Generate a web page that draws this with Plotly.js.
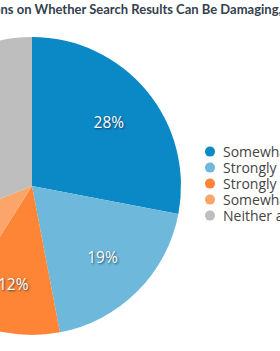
<!DOCTYPE html>
<html>
<head>
<meta charset="utf-8">
<script src="https://cdn.plot.ly/plotly-3.0.1.min.js"></script>
<style>
  html, body { margin:0; padding:0; width:280px; height:351px; overflow:hidden; background:#fff; }
  #chart { position:absolute; left:-250px; top:0; width:560px; height:351px; }
</style>
</head>
<body>
<div id="chart"></div>
<script>
const categories = ["Somewhat agree", "Strongly agree", "Strongly disagree", "Somewhat disagree", "Neither agree nor disagree"];
const shares = [28, 19, 12, 10, 31];
const sliceColors = ["#0b88c6", "#6db8db", "#fd8535", "#fca56a", "#bebebe"];
const titleText = "Opinions on Whether Search Results Can Be Damaging, by Respondents";

const W = 560, H = 351, OFFSET = 250;
const data = [{
  type: "pie",
  labels: categories,
  values: shares,
  sort: false,
  direction: "clockwise",
  rotation: 0,
  marker: { colors: sliceColors, line: { width: 0 } },
  texttemplate: "%{value}%",
  textposition: "inside",
  insidetextorientation: "horizontal",
  textfont: { family: "Open Sans", size: 15.5, color: "#ffffff", shadow: "1px 1px 2px rgba(20,40,60,0.75)" },
  hoverinfo: "none",
  domain: { x: [133 / W, 431 / W], y: [(H - 335) / H, (H - 37) / H] }
}];

const layout = {
  width: W, height: H,
  margin: { l: 0, r: 0, t: 0, b: 0, autoexpand: false },
  paper_bgcolor: "#ffffff",
  plot_bgcolor: "#ffffff",
  showlegend: true,
  title: {
    text: titleText,
    font: { family: "Lato", size: 13, weight: "bold", color: "#34404e" },
    x: 211 / W, xanchor: "left", xref: "paper",
    y: 1 - 9 / H, yanchor: "middle", yref: "container"
  },
  legend: {
    x: 440 / W, xanchor: "left",
    y: 1 - 136 / H, yanchor: "top",
    font: { family: "Open Sans", size: 14, color: "#444444" },
    bgcolor: "rgba(0,0,0,0)",
    borderwidth: 0
  }
};

Plotly.newPlot("chart", data, layout, { staticPlot: true, displayModeBar: false }).then(function (gd) {
  // legend: tighter rows, round symbols
  const items = gd.querySelectorAll(".legend .traces");
  let y0 = null;
  items.forEach(function (g, i) {
    const m = /translate\(([-\d.]+),\s*([-\d.]+)\)/.exec(g.getAttribute("transform") || "");
    if (y0 === null) y0 = m ? parseFloat(m[2]) : 0;
    const x = m ? parseFloat(m[1]) : 0;
    g.setAttribute("transform", "translate(" + x + "," + (y0 + i * 16) + ")");
  });
  gd.querySelectorAll(".legend .legendpoints path").forEach(function (p) {
    p.setAttribute("d", "M5,0A5,5 0 1,1 0,-5A5,5 0 0,1 5,0Z");
  });
  gd.querySelectorAll(".legend .legendtext").forEach(function (t) {
    t.setAttribute("x", 33);
  });

  // title: put the start of "ns on ..." at the left edge of the visible window
  const tt = gd.querySelector(".gtitle");
  if (tt && tt.getSubStringLength) {
    try {
      const pre = tt.getSubStringLength(0, 6);
      tt.setAttribute("x", OFFSET + 0.5 - pre);
    } catch (e) {}
  }

  // slice labels at ~2/3 of the radius along each slice's middle angle
  const cd0 = gd.calcdata[0][0];
  const cx = cd0.cx, cy = cd0.cy, r = cd0.r;
  const total = shares.reduce(function (a, b) { return a + b; }, 0);
  let cum = 0;
  const mids = shares.map(function (v) { const m = (cum + v / 2) / total * 2 * Math.PI; cum += v; return m; });
  gd.querySelectorAll(".slice").forEach(function (s, i) {
    const t = s.querySelector("text.slicetext");
    if (!t) return;
    const bb = t.getBBox();
    const tx = cx + 0.67 * r * Math.sin(mids[i]);
    const ty = cy - 0.67 * r * Math.cos(mids[i]);
    t.setAttribute("transform", "translate(" + (tx - (bb.x + bb.width / 2)) + "," + (ty - (bb.y + bb.height / 2)) + ")");
  });
});
</script>
</body>
</html>
